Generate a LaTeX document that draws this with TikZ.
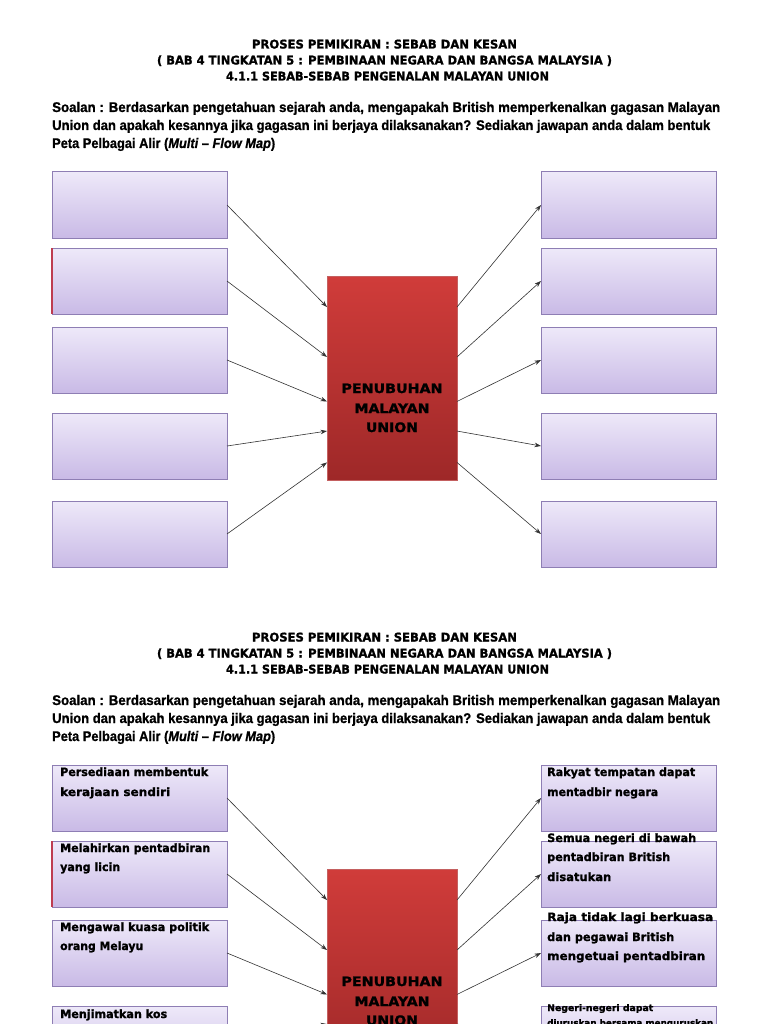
\documentclass[tikz,border=0pt]{standalone}
\usepackage{fontspec}
\usepackage{graphicx}
\usetikzlibrary{arrows.meta,calc,shadows}
\setmainfont{Liberation Sans}
\newfontfamily\djvB{DejaVu Sans Bold}[FakeBold=1.3]
\newfontfamily\libB{Liberation Sans Bold}[FakeBold=1.0,ItalicFont={Liberation Sans Bold Italic},ItalicFeatures={FakeBold=1.0}]
\newcommand\fw[2]{\resizebox{#1}{\height}{#2}}
\definecolor{boxtop}{RGB}{238,233,249}
\definecolor{boxbot}{RGB}{201,186,230}
\definecolor{boxedge}{RGB}{142,126,180}
\definecolor{ctop}{RGB}{208,60,58}
\definecolor{cbot}{RGB}{158,40,40}
\definecolor{cedge}{RGB}{196,96,96}
\definecolor{redge}{RGB}{190,60,80}
\tikzset{
  pbox/.style={draw=boxedge, line width=1pt, top color=boxtop, bottom color=boxbot,
    minimum width=175pt, minimum height=66pt, inner sep=0pt, outer sep=0pt, anchor=north west,
    drop shadow={opacity=0.2, shadow xshift=1.2pt, shadow yshift=-1.2pt}},
  cbox/.style={draw=cedge, line width=1pt, top color=ctop, bottom color=cbot,
    minimum width=130pt, minimum height=204pt, inner sep=0pt, outer sep=0pt, anchor=north west},
  arr/.style={-{Stealth[length=6.5pt,width=4.5pt]}, line width=0.6pt, draw=black!80},
  ttl/.style={font=\djvB\fontsize{12}{14}\selectfont, anchor=base, inner sep=0pt},
  qst/.style={font=\libB\fontsize{14}{16}\selectfont, anchor=base west, inner sep=0pt},
  ctxt/.style={font=\djvB\fontsize{13}{15}\selectfont, anchor=base, inner sep=0pt},
  btxt/.style={font=\djvB\fontsize{11.5}{13}\selectfont, anchor=base west, inner sep=0pt},
  stxt/.style={font=\djvB\fontsize{9}{11}\selectfont, anchor=base west, inner sep=0pt},
}
\newcommand\sheet[1]{%
  \node[ttl] (#1h1) at (384.5,48.5) {\fw{265pt}{PROSES PEMIKIRAN : SEBAB DAN KESAN}};
  \node[ttl] (#1h2) at (384.5,64.5) {\fw{455pt}{( BAB 4 TINGKATAN 5 : PEMBINAAN NEGARA DAN BANGSA MALAYSIA )}};
  \node[ttl] (#1h3) at (387.5,80.5) {\fw{323pt}{4.1.1 SEBAB-SEBAB PENGENALAN MALAYAN UNION}};
  \node[qst] (#1q1) at (52,112) {\fw{668pt}{Soalan : Berdasarkan pengetahuan sejarah anda, mengapakah British memperkenalkan gagasan Malayan}};
  \node[qst] (#1q2) at (52,130) {\fw{658pt}{Union dan apakah kesannya jika gagasan ini berjaya dilaksanakan? Sediakan jawapan anda dalam bentuk}};
  \node[qst] (#1q3) at (52,148) {\fw{223pt}{Peta Pelbagai Alir (\textit{Multi – Flow Map})}};
  \node[pbox] (#1L1) at (52,172) {};
  \node[pbox] (#1L2) at (52,248) {};
  \node[pbox] (#1L3) at (52,327) {};
  \node[pbox] (#1L4) at (52,413) {};
  \node[pbox] (#1L5) at (52,501) {};
  \draw[redge, line width=1.3pt] (#1L2.north west) -- (#1L2.south west);
  \node[pbox] (#1R1) at (541,172) {};
  \node[pbox] (#1R2) at (541,248) {};
  \node[pbox] (#1R3) at (541,327) {};
  \node[pbox] (#1R4) at (541,413) {};
  \node[pbox] (#1R5) at (541,501) {};
  \node[cbox] (#1C) at (327,276) {};
  \node[ctxt] (#1c1) at (392,393) {\fw{101pt}{PENUBUHAN}};
  \node[ctxt] (#1c2) at (392,413) {\fw{75pt}{MALAYAN}};
  \node[ctxt] (#1c3) at (392,432) {\fw{52pt}{UNION}};
  \foreach \i/\f in {1/0.152,2/0.397,3/0.615,4/0.760,5/0.914}{
    \draw[arr] (#1L\i.east) -- ($(#1C.north west)!\f!(#1C.south west)$);
    \draw[arr] ($(#1C.north east)!\f!(#1C.south east)$) -- (#1R\i.west);
  }
}
\begin{document}
\begin{tikzpicture}[x=1pt,y=-1pt]
  \useasboundingbox (0,0) rectangle (768,1024);
  \clip (0,0) rectangle (768,1024);
  \fill[white] (0,0) rectangle (768,1024);
  \begin{scope}
    \sheet{a}
  \end{scope}
  \begin{scope}[shift={(0,593)}]
    \sheet{b}
    \node[btxt] (bt1a) at (60,183) {\fw{148pt}{Persediaan membentuk}};
    \node[btxt] (bt1b) at (60,203) {\fw{110pt}{kerajaan sendiri}};
    \node[btxt] (bt2a) at (60,259) {\fw{150pt}{Melahirkan pentadbiran}};
    \node[btxt] (bt2b) at (60,278) {\fw{60pt}{yang licin}};
    \node[btxt] (bt3a) at (60,338) {\fw{149pt}{Mengawal kuasa politik}};
    \node[btxt] (bt3b) at (60,357) {\fw{83pt}{orang Melayu}};
    \node[btxt] (bt4a) at (60,425) {\fw{107pt}{Menjimatkan kos}};
    \node[btxt] (br1a) at (547,183) {\fw{148pt}{Rakyat tempatan dapat}};
    \node[btxt] (br1b) at (547,203) {\fw{111pt}{mentadbir negara}};
    \node[btxt] (br2a) at (547,249) {\fw{149pt}{Semua negeri di bawah}};
    \node[btxt] (br2b) at (547,268) {\fw{123pt}{pentadbiran British}};
    \node[btxt] (br2c) at (547,288) {disatukan};
    \node[btxt] (br3a) at (547,328) {\fw{166pt}{Raja tidak lagi berkuasa}};
    \node[btxt] (br3b) at (547,348) {\fw{127pt}{dan pegawai British}};
    \node[btxt] (br3c) at (547,367) {\fw{158pt}{mengetuai pentadbiran}};
    \node[stxt] (br4a) at (547,418) {\fw{106pt}{Negeri-negeri dapat}};
    \node[stxt] (br4b) at (547,433) {\fw{166pt}{diuruskan bersama menguruskan}};
  \end{scope}
\end{tikzpicture}
\end{document}
